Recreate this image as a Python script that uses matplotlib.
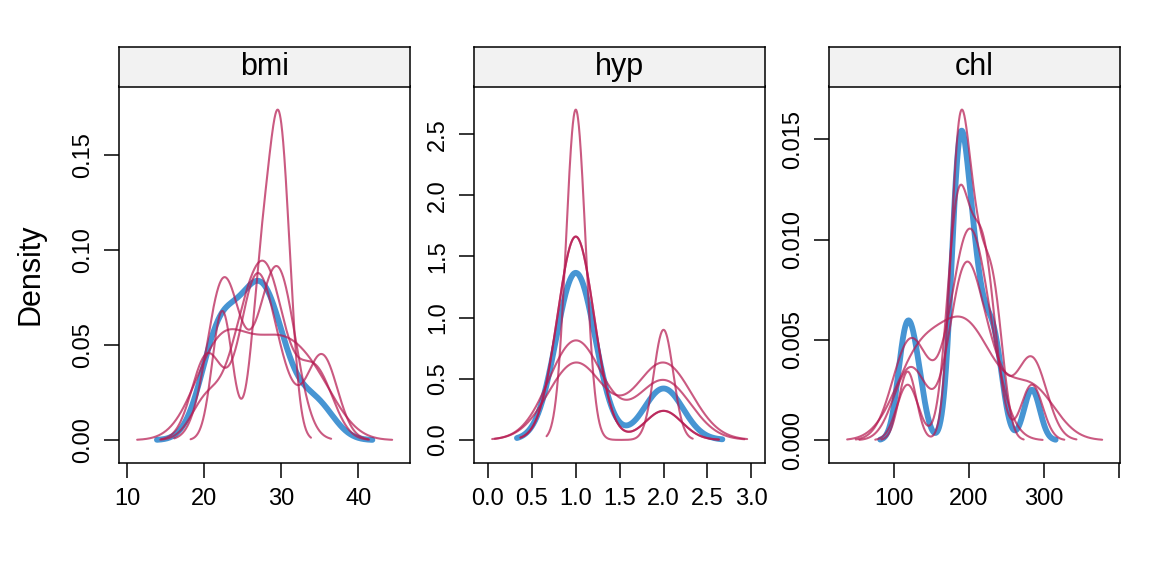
import numpy as np
import matplotlib
matplotlib.use("Agg")
import matplotlib.pyplot as plt

plt.rcParams['font.family'] = ['Liberation Sans', 'DejaVu Sans']

# observed values (blue) and the 5 imputed sets (red) per variable
bmi_obs = [22.7, 20.4, 22.5, 30.1, 22.0, 21.7, 28.7, 29.6, 27.2, 26.3, 35.3, 25.5, 33.2, 27.5, 24.9, 27.4]
bmi_imp = [
    [22.0, 22.7, 27.2, 27.4, 28.7, 29.6, 30.1, 30.1, 30.1],
    [20.4, 22.0, 22.5, 24.9, 27.2, 30.1, 30.1, 33.2, 35.3],
    [22.5, 22.5, 22.5, 22.5, 27.2, 28.7, 30.1, 30.1, 30.1],
    [20.4, 20.4, 25.5, 26.3, 27.4, 27.5, 30.1, 35.3, 35.3],
    [20.4, 24.9, 24.9, 27.5, 27.5, 28.7, 29.6, 33.2, 35.3],
]
hyp_obs = [1, 1, 1, 1, 1, 1, 1, 2, 1, 2, 2, 1, 2, 1, 1, 1, 1]
hyp_imp = [
    [1, 1, 1, 1, 1, 1, 2, 2],
    [1, 1, 1, 1, 1, 1, 1, 2],
    [1, 1, 1, 1, 1, 1, 1, 2],
    [1, 1, 1, 1, 2, 2, 2, 2],
    [1, 1, 1, 1, 1, 2, 2, 2],
]
chl_obs = [187, 187, 113, 184, 118, 187, 238, 206, 204, 284, 199, 218, 229, 131, 186]
chl_imp = [
    [131, 131, 131, 184, 184, 184, 218, 218, 284, 284],
    [118, 184, 187, 187, 187, 204, 204, 218, 229, 238],
    [118, 184, 184, 184, 187, 206, 218, 218, 229, 284],
    [118, 118, 131, 186, 187, 204, 204, 204, 204, 229],
    [113, 131, 186, 187, 199, 199, 218, 238, 284, 284],
]

titles = ['bmi', 'hyp', 'chl']
xticks = [[10, 20, 30, 40], [0, 0.5, 1, 1.5, 2, 2.5, 3], [100, 200, 300, 400]]
xlabels = [['10', '20', '30', '40'], ['0.0', '0.5', '1.0', '1.5', '2.0', '2.5', '3.0'], ['100', '200', '300', '']]
yticks = [[0, 0.05, 0.10, 0.15], [0, 0.5, 1, 1.5, 2, 2.5], [0, 0.005, 0.010, 0.015]]
ylabels = [['0.00', '0.05', '0.10', '0.15'], ['0.0', '0.5', '1.0', '1.5', '2.0', '2.5'],
           ['0.000', '0.005', '0.010', '0.015']]


def bw_nrd0(v):
    # same rule as R's bw.nrd0
    n = len(v)
    sd = np.std(v, ddof=1)
    q1, q3 = np.percentile(v, [25, 75])
    lo = min(sd, (q3 - q1) / 1.34)
    if not lo:
        lo = sd or abs(v[0]) or 1.0
    return 0.9 * lo * n ** -0.2


def density(vals):
    # gaussian kernel density like R's density(), cut = 3, 512 points
    v = np.sort(np.asarray(vals, float))
    bw = bw_nrd0(v)
    xs = np.linspace(v[0] - 3 * bw, v[-1] + 3 * bw, 512)
    ys = np.exp(-0.5 * ((xs[:, None] - v[None, :]) / bw) ** 2).sum(1) / (len(v) * bw * np.sqrt(2 * np.pi))
    return xs, ys


W, H = 1152, 576
fig = plt.figure(figsize=(W / 100, H / 100), dpi=100)
blue = (0 / 255, 108 / 255, 194 / 255, 0.72)
red = (182 / 255, 26 / 255, 81 / 255, 0.72)

obs_all = [bmi_obs, hyp_obs, chl_obs]
imp_all = [bmi_imp, hyp_imp, chl_imp]
lefts = [119.3, 474.3, 829.3]

for i in range(3):
    x0 = lefts[i]
    ax = fig.add_axes([x0 / W, 113 / H, 290.7 / W, 376.5 / H])
    sax = fig.add_axes([x0 / W, 489.5 / H, 290.7 / W, 39.1 / H])

    curves = [density(obs_all[i])] + [density(v) for v in imp_all[i]]
    ax.plot(*curves[0], color=blue, lw=4.2, solid_capstyle='round')
    for xs, ys in curves[1:]:
        ax.plot(xs, ys, color=red, lw=1.5, solid_capstyle='round')

    # lattice style limits: data range padded by 7 %
    allx = np.concatenate([c[0] for c in curves])
    ally = np.concatenate([c[1] for c in curves])
    dx = allx.max() - allx.min()
    dy = ally.max() - ally.min()
    ax.set_xlim(allx.min() - 0.07 * dx, allx.max() + 0.07 * dx)
    ax.set_ylim(ally.min() - 0.07 * dy, ally.max() + 0.07 * dy)

    ax.set_xticks(xticks[i])
    ax.set_xticklabels(xlabels[i])
    ax.set_yticks(yticks[i])
    ax.set_yticklabels(ylabels[i])
    ax.tick_params(direction='out', length=10.8, width=1.1, labelsize=17, pad=7.5)
    for lab in ax.get_yticklabels():
        lab.set_rotation(90)
        lab.set_va('center')
    for s in ax.spines.values():
        s.set_linewidth(1.1)

    sax.set_facecolor('#F2F2F2')
    sax.set_xticks([])
    sax.set_yticks([])
    for s in sax.spines.values():
        s.set_linewidth(1.1)
    sax.text(0.5, 0.5, titles[i], ha='center', va='center', fontsize=22, transform=sax.transAxes)

fig.text(30 / W, 1 - 274.7 / H, 'Density', rotation=90, ha='center', va='center', fontsize=22)
fig.savefig('out.png', dpi=100)
